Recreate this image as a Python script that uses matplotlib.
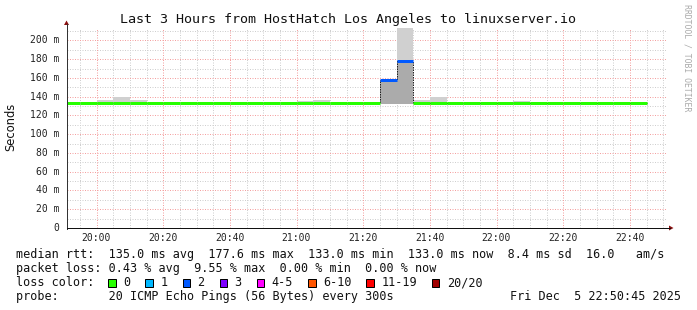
import matplotlib
matplotlib.use("Agg")
import matplotlib.pyplot as plt
from matplotlib.patches import Rectangle
import numpy as np

# ---------------- data ----------------
title = "Last 3 Hours from HostHatch Los Angeles to linuxserver.io"
ylabel = "Seconds"

# 5-minute bins, start time in minutes relative to 20:00
bin_start = [-10, -5, 0, 5, 10, 15, 20, 25, 30, 35, 40, 45, 50, 55, 60, 65, 70, 75,
             80, 85, 90, 95, 100, 105, 110, 115, 120, 125, 130, 135, 140, 145, 150, 155, 160]
# median rtt (ms)
median_ms = [133, 133, 133, 133, 133, 133, 133, 133, 133, 133, 133, 133, 133, 133, 133, 133, 133, 133,
             133, 157.5, 177.6, 133, 133, 133, 133, 133, 133, 133, 133, 133, 133, 133, 133, 133, 133]
# lost pings per bin (of 20)
loss_cnt = [0, 0, 0, 0, 0, 0, 0, 0, 0, 0, 0, 0, 0, 0, 0, 0, 0, 0,
            0, 2, 2, 0, 0, 0, 0, 0, 0, 0, 0, 0, 0, 0, 0, 0, 0]
# smoke: minimum ping, top of dense smoke, maximum ping (ms)
ping_min = [132.5, 132.5, 132.5, 132.5, 132.5, 132.5, 132.5, 132.5, 132.5, 132.5, 132.5, 132.5,
            132.5, 132.5, 132.5, 132.5, 132.5, 132.5, 132.5, 132.5, 132.5, 132.5, 132.5, 132.5,
            132.5, 132.5, 132.5, 132.5, 132.5, 132.5, 132.5, 132.5, 132.5, 132.5, 132.5]
smoke_dense = [132.5, 132.5, 132.5, 132.5, 132.5, 132.5, 132.5, 132.5, 132.5, 132.5, 132.5, 132.5,
               132.5, 132.5, 132.5, 132.5, 132.5, 132.5, 132.5, 157.5, 177.6, 132.5, 132.5, 132.5,
               132.5, 132.5, 132.5, 132.5, 132.5, 132.5, 132.5, 132.5, 132.5, 132.5, 132.5]
ping_max = [133, 133, 136.5, 140, 136.5, 133, 133, 133, 133, 133, 133, 133, 133, 133, 135.5, 136.5,
            133, 133, 133, 157.5, 240, 137, 139.5, 133, 133, 133, 133, 135, 133, 133, 133, 133,
            133, 133, 133]

x_tick_pos = [0, 20, 40, 60, 80, 100, 120, 140, 160]
x_tick_labels = ["20:00", "20:20", "20:40", "21:00", "21:20", "21:40", "22:00", "22:20", "22:40"]
y_tick_pos = [0, 20, 40, 60, 80, 100, 120, 140, 160, 180, 200]
y_tick_labels = ["0", "20 m", "40 m", "60 m", "80 m", "100 m", "120 m", "140 m", "160 m", "180 m", "200 m"]

loss_labels = ["0", "1", "2", "3", "4-5", "6-10", "11-19", "20/20"]
loss_colors = ["#26ff00", "#00b8ff", "#0059ff", "#7e00ff", "#ff00ff", "#ff5500", "#ff0000", "#a10000"]

rtt_avg, rtt_max, rtt_min, rtt_now, rtt_sd, am_s = 135.0, 177.6, 133.0, 133.0, 8.4, 16.0
loss_avg, loss_max, loss_min, loss_now = 0.43, 9.55, 0.00, 0.00
probe_text = "20 ICMP Echo Pings (56 Bytes) every 300s"
date_text = "Fri Dec  5 22:50:45 2025"

# ---------------- layout ----------------
W, H, DPI = 697, 310, 100
L, R, T, B = 66.5, 666.5, 28, 228
XMIN, XMAX = -9, 171
YMAX = 213.33
MONO = "DejaVu Sans Mono"


def fx(px):
    return px / W


def fy(py):
    return 1 - py / H


fig = plt.figure(figsize=(W / DPI, H / DPI), dpi=DPI)
fig.patch.set_facecolor("white")
ax = fig.add_axes([fx(L), fy(B), (R - L) / W, (B - T) / H])
ax.set_xlim(XMIN, XMAX)
ax.set_ylim(0, YMAX)
ax.set_facecolor("white")
for s in ax.spines.values():
    s.set_visible(False)
ax.set_xticks([])
ax.set_yticks([])

px = 0.72  # one pixel in points
dot = (0, (1, 1.5))

# grid
for v in range(-5, 171, 5):
    if v % 20 != 0:
        ax.axvline(v, color="#cfcfcf", lw=px, ls=dot, zorder=1)
for v in range(10, 214, 10):
    if v % 20 != 0:
        ax.axhline(v, color="#cfcfcf", lw=px, ls=dot, zorder=1)
for v in x_tick_pos:
    ax.axvline(v, color="#f4a0a0", lw=px, ls=dot, zorder=1.1)
for v in y_tick_pos[1:]:
    ax.axhline(v, color="#f4a0a0", lw=px, ls=dot, zorder=1.1)

bs = np.array(bin_start, dtype=float)
pmin = np.array(ping_min)
pd = np.array(smoke_dense)
pmax = np.array(ping_max)
med = np.array(median_ms)

# smoke
ax.bar(bs, pmax - pd, bottom=pd, width=5, align="edge", color="#d0d0d0", lw=0, zorder=2)
ax.bar(bs, pd - pmin, bottom=pmin, width=5, align="edge", color="#ababab", lw=0, zorder=2.1)

# median step outline
edges = np.append(bs, bs[-1] + 5)
ax.step(edges, np.append(med, med[-1]), where="post", color="#222222", lw=px,
        ls=(0, (1.5, 1)), zorder=3)


def loss_color(c):
    if c == 0:
        return loss_colors[0]
    if c == 1:
        return loss_colors[1]
    if c == 2:
        return loss_colors[2]
    if c == 3:
        return loss_colors[3]
    if c <= 5:
        return loss_colors[4]
    if c <= 10:
        return loss_colors[5]
    if c <= 19:
        return loss_colors[6]
    return loss_colors[7]


cols = [loss_color(c) for c in loss_cnt]
lc = ax.hlines(med, bs, bs + 5, colors=cols, lw=3 * px, zorder=4)
lc.set_capstyle("butt")

# axes lines + arrows
fig.add_artist(plt.Line2D([fx(L), fx(L)], [fy(B + 0.5), fy(24)], color="#333333", lw=px))
fig.add_artist(plt.Line2D([fx(L), fx(670)], [fy(B), fy(B)], color="#111111", lw=px))
fig.add_artist(plt.Polygon([[fx(L - 2.5), fy(25)], [fx(L + 2.5), fy(25)], [fx(L), fy(20.5)]],
                           closed=True, color="#8b1010", lw=0))
fig.add_artist(plt.Polygon([[fx(669), fy(B - 2.5)], [fx(669), fy(B + 2.5)], [fx(673.5), fy(B)]],
                           closed=True, color="#8b1010", lw=0))

# tick labels
x_per_min = (R - L) / (XMAX - XMIN)
for p, lab in zip(x_tick_pos, x_tick_labels):
    xp = L + (p - XMIN) * x_per_min
    fig.text(fx(xp), fy(238), lab, ha="center", va="center", family=MONO, fontsize=7, color="#222222")
y_per = (B - T) / YMAX
for p, lab in zip(y_tick_pos, y_tick_labels):
    yp = B - p * y_per
    fig.text(fx(59.5), fy(yp), lab, ha="right", va="center", family=MONO, fontsize=7, color="#222222")

# title / labels
fig.text(fx(348), fy(19), title, ha="center", va="center", family=MONO, fontsize=9.6, color="#111111")
fig.text(fx(11), fy(127), ylabel, ha="center", va="center", rotation=90, family="DejaVu Sans",
         fontsize=8.3, color="#111111")
fig.text(fx(686.5), fy(4.5), "RRDTOOL / TOBI OETIKER", ha="center", va="top", rotation=270,
         family=MONO, fontsize=5.9, color="#aaaaaa")

# legend text
row1 = ("median rtt:  %.1f ms avg  %.1f ms max  %.1f ms min  %.1f ms now  %.1f ms sd  %.1f   am/s"
        % (rtt_avg, rtt_max, rtt_min, rtt_now, rtt_sd, am_s))
row2 = ("packet loss: %.2f %% avg  %.2f %% max  %.2f %% min  %.2f %% now"
        % (loss_avg, loss_max, loss_min, loss_now))
row4 = "probe:       " + probe_text
LX = 16
for yy, txt in [(254.5, row1), (268.5, row2), (282.5, "loss color:"), (296.5, row4)]:
    fig.text(fx(LX), fy(yy), txt, ha="left", va="center", family=MONO, fontsize=8.5, color="#111111")
fig.text(fx(680.5), fy(296.5), date_text, ha="right", va="center", family=MONO, fontsize=8.5,
         color="#111111")

cw = 7.1
bx = 108.3
for lab, col in zip(loss_labels, loss_colors):
    fig.add_artist(Rectangle((fx(bx), fy(286.5)), 7.5 / W, 7.5 / H, transform=fig.transFigure,
                             facecolor=col, edgecolor="#000000", lw=px))
    tx = bx + 15
    fig.text(fx(tx), fy(282.5), lab, ha="left", va="center", family=MONO, fontsize=8.5, color="#111111")
    bx = tx + len(lab) * cw + 15

fig.savefig("out.png", dpi=DPI, facecolor="white")
